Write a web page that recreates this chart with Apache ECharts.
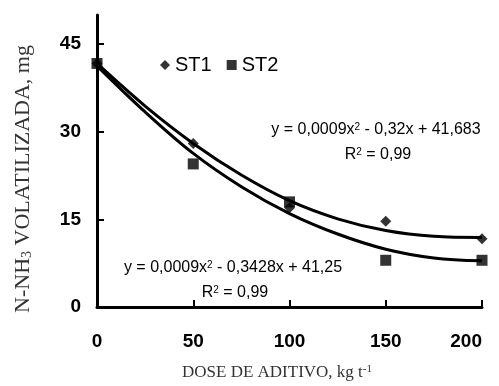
<!DOCTYPE html>
<html>
<head>
<meta charset="utf-8">
<script src="https://cdn.jsdelivr.net/npm/echarts@6.0.0/dist/echarts.min.js"></script>
<style>
  html, body { margin: 0; padding: 0; background: #fff; }
  #chart { width: 499px; height: 386px; }
</style>
</head>
<body>
<div id="chart"></div>
<script>
// measured points
const doses = [0, 50, 100, 150, 200]
const st1 = [41.7, 28.0, 17.0, 14.7, 11.7]
const st2 = [41.7, 24.5, 18.0, 8.0, 8.0]

// trend lines
const fitX = [0, 25, 50, 75, 100, 125, 150, 175, 200]
const fit1 = [41.7, 34.4, 28.0, 22.6, 18.2, 15.1, 13.1, 12.1, 11.9]
const fit2 = [41.3, 33.4, 26.3, 20.6, 16.0, 12.5, 9.9, 8.4, 7.9]

const yTicks = [0, 15, 30, 45]

const pairs = (xs, ys) => xs.map((x, i) => [x, ys[i]])

const chartDom = document.getElementById('chart')
const myChart = echarts.init(chartDom)

const sans = 'Liberation Sans, Arial, sans-serif'
const serif = 'Liberation Serif, Times New Roman, serif'

const eqStyle = {
  fontFamily: sans,
  fontSize: 16,
  fill: '#000',
  align: 'center',
  verticalAlign: 'middle',
  rich: {
    sup: { fontSize: 10, verticalAlign: 'top', lineHeight: 10, fontFamily: sans }
  }
}

const option = {
  animation: false,
  backgroundColor: '#fff',
  grid: { left: 97, right: 17, top: 15, bottom: 71 },
  legend: {
    left: 155,
    top: 50,
    itemWidth: 10,
    itemHeight: 10,
    itemGap: 15,
    textStyle: { fontFamily: sans, fontSize: 20, color: '#000' },
    data: [
      { name: 'ST1', icon: 'diamond' },
      { name: 'ST2', icon: 'rect' }
    ]
  },
  xAxis: {
    type: 'value',
    min: 0,
    max: 200,
    interval: 50,
    splitLine: { show: false },
    axisLine: { lineStyle: { color: '#000', width: 3 } },
    axisTick: { inside: true, length: 7, lineStyle: { color: '#000', width: 2 } },
    axisLabel: {
      margin: 25,
      color: '#000',
      fontFamily: sans,
      fontWeight: 'bold',
      fontSize: 19,
      alignMaxLabel: 'right'
    },
    name: 'DOSE DE ADITIVO, kg t{sup|-1}',
    nameLocation: 'middle',
    nameGap: 57,
    nameTextStyle: {
      fontFamily: serif,
      fontSize: 17,
      color: '#333',
      padding: [0, 25, 0, 0],
      rich: {
        sup: { fontSize: 11, verticalAlign: 'top', lineHeight: 11, color: '#333', fontFamily: serif }
      }
    }
  },
  yAxis: {
    type: 'value',
    min: 0,
    max: 50,
    interval: 15,
    splitLine: { show: false },
    axisLine: { show: true, lineStyle: { color: '#000', width: 3 } },
    axisTick: { inside: true, length: 7, customValues: yTicks, lineStyle: { color: '#000', width: 2 } },
    axisLabel: {
      margin: 16,
      customValues: yTicks,
      color: '#000',
      fontFamily: sans,
      fontWeight: 'bold',
      fontSize: 19
    },
    name: 'N-NH{sub|3} VOLATILIZADA, mg',
    nameLocation: 'middle',
    nameRotate: 90,
    nameGap: 63,
    nameTextStyle: {
      fontFamily: serif,
      fontSize: 22,
      color: '#333',
      padding: [0, 36, 0, 0],
      rich: {
        sub: { fontSize: 14, verticalAlign: 'bottom', lineHeight: 14, color: '#333', fontFamily: serif }
      }
    }
  },
  series: [
    {
      name: 'fit ST1',
      type: 'line',
      smooth: 0.35,
      showSymbol: false,
      silent: true,
      lineStyle: { color: '#000', width: 3 },
      data: pairs(fitX, fit1),
      z: 2
    },
    {
      name: 'fit ST2',
      type: 'line',
      smooth: 0.35,
      showSymbol: false,
      silent: true,
      lineStyle: { color: '#000', width: 3 },
      data: pairs(fitX, fit2),
      z: 2
    },
    {
      name: 'ST1',
      type: 'scatter',
      symbol: 'diamond',
      symbolSize: 11,
      itemStyle: { color: '#000' },
      data: pairs(doses, st1),
      z: 3
    },
    {
      name: 'ST2',
      type: 'scatter',
      symbol: 'rect',
      symbolSize: 11,
      itemStyle: { color: '#000' },
      data: pairs(doses, st2),
      z: 4
    }
  ],
  graphic: [
    { type: 'text', x: 376, y: 130, style: Object.assign({ text: 'y = 0,0009x{sup|2} - 0,32x + 41,683' }, eqStyle) },
    { type: 'text', x: 378, y: 155, style: Object.assign({ text: 'R{sup|2} = 0,99' }, eqStyle) },
    { type: 'text', x: 233, y: 268, style: Object.assign({ text: 'y = 0,0009x{sup|2} - 0,3428x + 41,25' }, eqStyle) },
    { type: 'text', x: 235, y: 293, style: Object.assign({ text: 'R{sup|2} = 0,99' }, eqStyle) }
  ]
}

option && myChart.setOption(option)
</script>
</body>
</html>
